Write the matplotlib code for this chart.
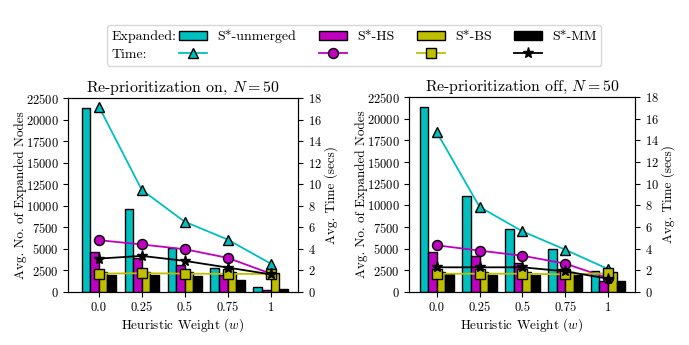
import numpy as np
import matplotlib
matplotlib.use("Agg")
import matplotlib.pyplot as plt
from matplotlib.patches import Rectangle
from matplotlib.offsetbox import HPacker

plt.rcParams['font.family'] = 'serif'
plt.rcParams['font.serif'] = ['cmr10', 'DejaVu Serif']
plt.rcParams['mathtext.fontset'] = 'cm'
plt.rcParams['axes.formatter.use_mathtext'] = True
plt.rcParams['axes.unicode_minus'] = False

weights = ['0.0', '0.25', '0.5', '0.75', '1']
methods = ['S*-unmerged', 'S*-HS', 'S*-BS', 'S*-MM']
colors = ['c', 'm', 'y', 'k']
markers = ['^', 'o', 's', '*']
msizes = [7.5, 7.2, 6.5, 8]

# Re-prioritization on
nodes_on_unmerged = [21350, 9600, 5150, 2800, 600]
nodes_on_hs = [4600, 3950, 3100, 2000, 280]
nodes_on_bs = [2270, 2270, 2270, 2270, 2250]
nodes_on_mm = [2000, 2030, 1830, 1380, 330]
time_on_unmerged = [17.2, 9.47, 6.52, 4.87, 2.64]
time_on_hs = [4.81, 4.41, 3.97, 3.17, 1.71]
time_on_bs = [1.71, 1.74, 1.71, 1.68, 1.68]
time_on_mm = [3.10, 3.35, 2.89, 2.27, 1.64]

# Re-prioritization off
nodes_off_unmerged = [21350, 11050, 7300, 5000, 2400]
nodes_off_hs = [4620, 4190, 3300, 2600, 1220]
nodes_off_bs = [2300, 2300, 2270, 2300, 2300]
nodes_off_mm = [2050, 2000, 2000, 2000, 1230]
time_off_unmerged = [14.74, 7.85, 5.60, 3.91, 2.12]
time_off_hs = [4.31, 3.82, 3.35, 2.62, 1.29]
time_off_bs = [1.69, 1.69, 1.69, 1.63, 1.72]
time_off_mm = [2.28, 2.28, 2.28, 1.91, 1.23]

panels = [
    ("Re-prioritization on, $N = 50$",
     [nodes_on_unmerged, nodes_on_hs, nodes_on_bs, nodes_on_mm],
     [time_on_unmerged, time_on_hs, time_on_bs, time_on_mm],
     [0.0987, 0.1536, 0.3338, 0.5623], (-0.72, 4.64)),
    ("Re-prioritization off, $N = 50$",
     [nodes_off_unmerged, nodes_off_hs, nodes_off_bs, nodes_off_mm],
     [time_off_unmerged, time_off_hs, time_off_bs, time_off_mm],
     [0.5936, 0.1536, 0.3280, 0.5652], (-0.65, 4.63)),
]

fig = plt.figure(figsize=(6.89, 3.45), dpi=100)
x = np.arange(len(weights))
width = 0.2
offsets = [-0.3, -0.1, 0.1, 0.3]
bar_handles, line_handles = [], []

for pi, (title, nodes, times, rect, xl) in enumerate(panels):
    ax = fig.add_axes(rect)
    ax2 = ax.twinx()
    for k in range(4):
        b = ax.bar(x + offsets[k], nodes[k], width, color=colors[k],
                   edgecolor='black', linewidth=1.0, label=methods[k])
        l, = ax2.plot(x, times[k], color=colors[k], marker=markers[k],
                      markersize=msizes[k], markeredgecolor='black',
                      markerfacecolor=colors[k], linewidth=1.3)
        if pi == 0:
            bar_handles.append(b)
            line_handles.append(l)
    ax.set_xlim(*xl)
    ax.set_ylim(0, 22500)
    ax.set_yticks(np.arange(0, 22501, 2500))
    ax2.set_ylim(0, 18)
    ax2.set_yticks(np.arange(0, 19, 2))
    ax.set_xticks(x)
    ax.set_xticklabels(weights)
    ax.tick_params(labelsize=9)
    ax2.tick_params(labelsize=9)
    ax.set_title(title, fontsize=11.4, pad=4)
    ax.set_xlabel("Heuristic Weight ($w$)", fontsize=9.5, labelpad=1.5)
    ax.set_ylabel("Avg. No. of Expanded Nodes", fontsize=9.5, labelpad=-1)
    ax2.set_ylabel("Avg. Time (secs)", fontsize=9.5, labelpad=2)

blank = Rectangle((0, 0), 1, 1, visible=False)
handles = [blank, blank]
labels = ['Expanded:', 'Time:']
for k in range(4):
    handles += [bar_handles[k], line_handles[k]]
    labels += [methods[k], '']

leg = fig.legend(handles, labels, ncol=5, loc='upper center',
                 bbox_to_anchor=(0.514, 0.948), fontsize=10,
                 columnspacing=1.65, handlelength=2.0, handletextpad=0.72,
                 labelspacing=0.35, borderpad=0.35)

# make the first column a plain text column placed right before the handles
hbox = leg._legend_handle_box
cols = list(hbox.get_children())
for item in cols[0].get_children():
    h, t = item.get_children()
    h.width = 0
    item.sep = 0
merged = HPacker(pad=0, sep=2, align='baseline', children=[cols[0], cols[1]])
hbox._children = [merged] + cols[2:]

fig.savefig('out.png', dpi=100)
